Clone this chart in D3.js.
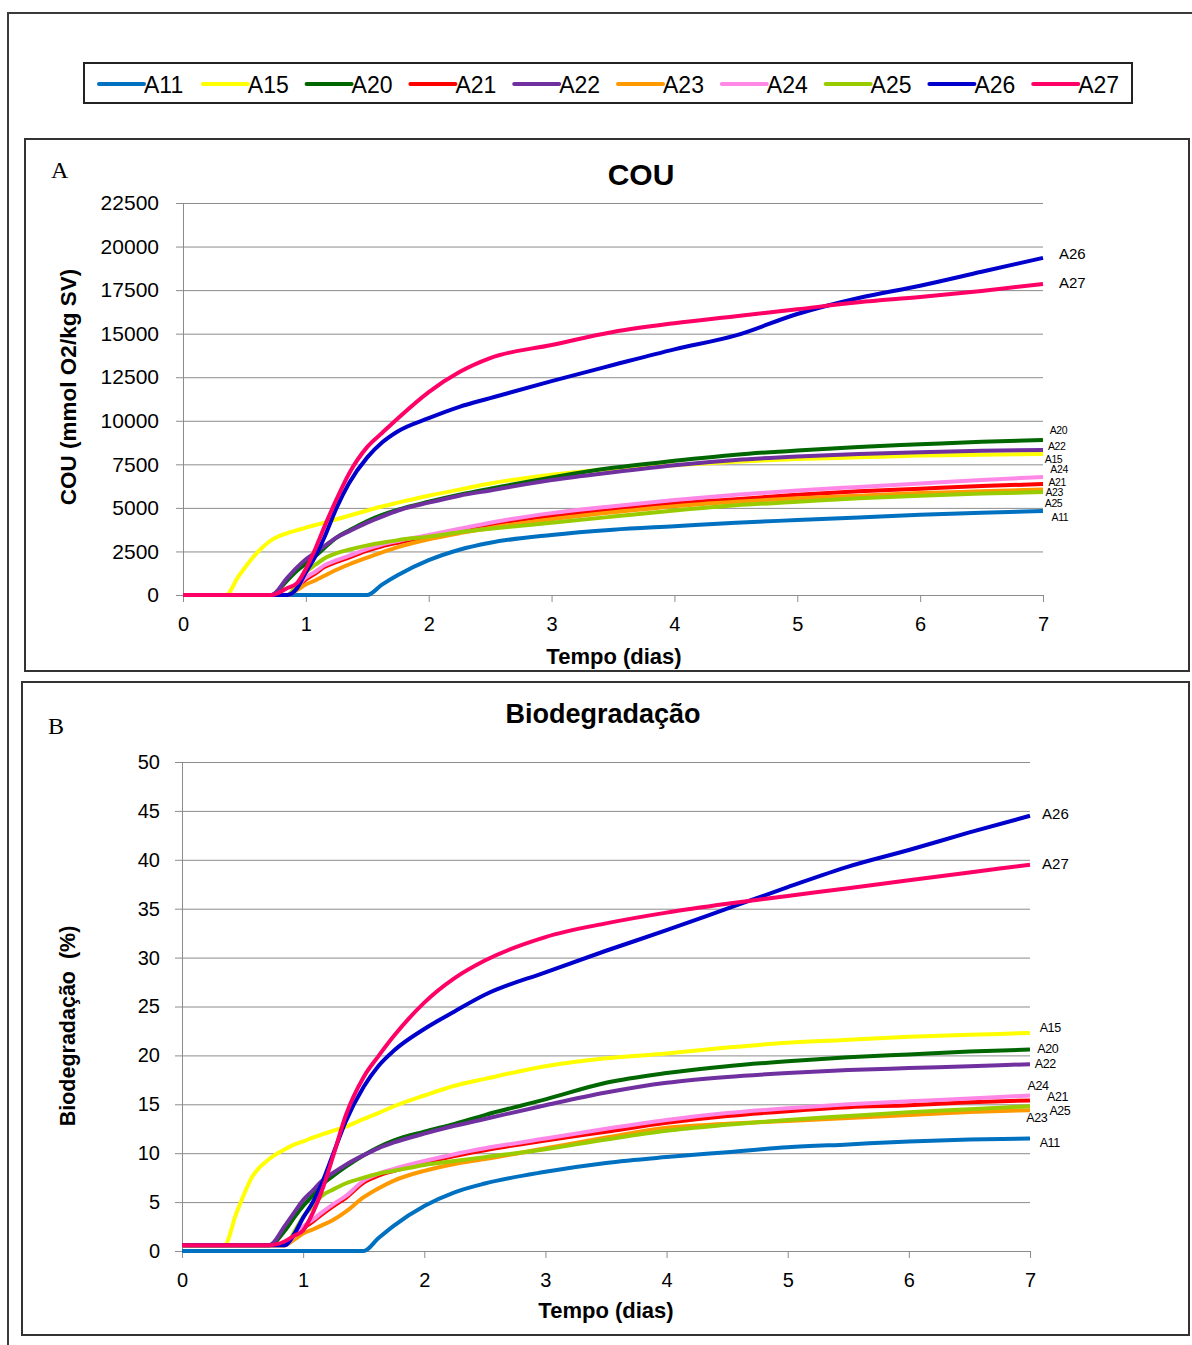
<!DOCTYPE html>
<html><head><meta charset="utf-8">
<script src="https://cdnjs.cloudflare.com/ajax/libs/d3/7.8.5/d3.min.js"></script>
<style>
body{margin:0;background:#fff;}
text{font-family:"Liberation Sans",Arial,sans-serif;fill:#000;}
</style></head>
<body><svg id="c" width="1192" height="1345"></svg>
<script>
// ---------- DATA ----------
const seriesNames = ["A11","A15","A20","A21","A22","A23","A24","A25","A26","A27"];
const seriesColors = ["#0070c0","#ffff00","#006600","#ff0000","#7030a0","#ff9900","#ff88e6","#99cc00","#0000cc","#ff0066"];
const days = [0,0.35,0.45,0.58,0.72,0.85,0.93,1.0,1.08,1.15,1.25,1.35,1.5,1.62,1.75,2,2.25,2.5,3,3.5,4,4.5,5,5.5,6,6.5,7];

// Panel A: COU (mmol O2/kg SV)
const couA11 = [0,0,0,0,0,0,0,0,0,0,0,0,0,600,1150,2000,2600,3000,3450,3750,3950,4150,4300,4450,4600,4720,4820];
const couA15 = [0,0,1050,2250,3150,3550,3720,3870,4020,4150,4350,4550,4850,5080,5300,5700,6050,6400,6900,7250,7450,7650,7800,7900,8000,8050,8090];
const couA20 = [0,0,0,0,0,850,1400,1800,2250,2700,3300,3700,4250,4600,4900,5350,5750,6100,6750,7300,7700,8050,8300,8500,8650,8800,8900];
const couA21 = [0,0,0,0,0,0,450,900,1250,1600,1900,2150,2550,2800,3000,3350,3700,4050,4550,4900,5250,5500,5750,5950,6100,6250,6370];
const couA22 = [0,0,0,0,0,1000,1600,2050,2450,2800,3300,3650,4150,4500,4850,5300,5700,6000,6600,7050,7450,7750,7950,8100,8200,8280,8320];
const couA23 = [0,0,0,0,0,0,300,600,850,1100,1450,1750,2150,2450,2750,3200,3550,3850,4350,4750,5100,5350,5550,5700,5850,5950,6050];
const couA24 = [0,0,0,0,0,0,500,1000,1350,1700,2000,2250,2650,2900,3100,3450,3800,4150,4700,5100,5450,5750,6000,6200,6400,6600,6770];
const couA25 = [0,0,0,0,0,0,650,1300,1750,2100,2400,2600,2850,3000,3150,3350,3600,3800,4150,4500,4850,5150,5350,5550,5700,5820,5910];
const couA26 = [0,0,0,0,0,0,400,1300,2250,3300,5000,6400,7900,8750,9400,10150,10800,11300,12280,13200,14100,14900,16130,17050,17750,18550,19350];
const couA27 = [0,0,0,0,0,400,700,1500,2700,3900,5500,6950,8500,9300,10150,11650,12800,13600,14350,15100,15600,16000,16400,16800,17100,17450,17850];

// Panel B: Biodegradação (%)
const bioA11 = [0,0,0,0,0,0,0,0,0,0,0,0,0,1.3,2.6,4.6,6.0,6.9,8.1,9.0,9.6,10.1,10.6,10.9,11.2,11.4,11.5];
const bioA15 = [0.6,0.6,3.9,7.6,9.4,10.4,10.9,11.2,11.6,11.9,12.3,12.7,13.5,14.1,14.8,15.9,16.9,17.6,18.9,19.7,20.2,20.8,21.3,21.6,21.9,22.1,22.3];
const bioA20 = [0.6,0.6,0.6,0.6,0.6,2.1,3.5,4.6,5.7,6.7,7.7,8.6,9.8,10.6,11.3,12.2,13.0,13.9,15.5,17.2,18.2,18.9,19.4,19.8,20.1,20.4,20.6];
const bioA21 = [0.6,0.6,0.6,0.6,0.6,0.6,1.5,2.3,3.0,3.7,4.6,5.4,7.0,7.7,8.2,9.0,9.7,10.3,11.3,12.2,13.1,13.8,14.3,14.7,14.9,15.2,15.4];
const bioA22 = [0.6,0.6,0.6,0.6,0.6,2.6,4.0,5.2,6.2,7.1,8.0,8.8,9.8,10.5,11.1,12.0,12.8,13.5,14.9,16.2,17.2,17.8,18.2,18.5,18.7,18.9,19.1];
const bioA23 = [0.6,0.6,0.6,0.6,0.6,0.6,1.2,1.8,2.2,2.6,3.2,4.0,5.5,6.4,7.2,8.2,8.9,9.4,10.5,11.6,12.6,13.0,13.3,13.6,13.9,14.2,14.4];
const bioA24 = [0.6,0.6,0.6,0.6,0.6,0.6,1.6,2.5,3.2,3.9,4.8,5.6,7.2,7.9,8.4,9.2,9.9,10.5,11.5,12.5,13.4,14.1,14.6,15.0,15.3,15.6,15.9];
const bioA25 = [0.6,0.6,0.6,0.6,0.6,0.6,2.0,3.5,4.6,5.6,6.3,6.9,7.5,7.9,8.2,8.8,9.2,9.6,10.4,11.4,12.3,12.9,13.4,13.8,14.2,14.5,14.8];
const bioA26 = [0.6,0.6,0.6,0.6,0.6,0.6,1.8,3.4,5.0,6.8,10.0,13.2,16.8,18.9,20.5,22.7,24.5,26.2,28.5,30.7,32.8,35.0,37.2,39.3,41.0,42.8,44.5];
const bioA27 = [0.6,0.6,0.6,0.6,0.6,1.0,1.6,2.1,3.9,6.0,9.8,13.8,17.8,19.9,22.0,25.4,27.9,29.7,32.1,33.5,34.6,35.5,36.3,37.1,37.9,38.7,39.5];

const couSeries = [couA11,couA15,couA20,couA21,couA22,couA23,couA24,couA25,couA26,couA27];
const bioSeries = [bioA11,bioA15,bioA20,bioA21,bioA22,bioA23,bioA24,bioA25,bioA26,bioA27];

const xTicks = [0,1,2,3,4,5,6,7];
const couTicks = [0,2500,5000,7500,10000,12500,15000,17500,20000,22500];
const bioTicks = [0,5,10,15,20,25,30,35,40,45,50];

// end-of-line annotations (day, value) in data units
const couLabelNames = ["A26","A27","A20","A22","A15","A24","A21","A23","A25","A11"];
const couLabelDays  = [7.13,7.13,7.055,7.04,7.015,7.06,7.045,7.02,7.015,7.07];
const couLabelVals  = [19570,17910,9470,8550,7810,7230,6490,5900,5250,4480];
const bioLabelNames = ["A26","A27","A15","A20","A22","A24","A21","A25","A23","A11"];
const bioLabelDays  = [7.10,7.10,7.08,7.06,7.04,6.98,7.14,7.16,6.97,7.08];
const bioLabelVals  = [44.7,39.6,22.9,20.7,19.2,16.9,15.8,14.4,13.6,11.1];

// ---------- DRAW ----------
const svg = d3.select("#c");

// outer frame
svg.append("rect").attr("x",8).attr("y",13).attr("width",1200).attr("height",1400)
  .attr("fill","none").attr("stroke","#3a3a3a").attr("stroke-width",2);

// legend
const leg = svg.append("g");
leg.append("rect").attr("x",84).attr("y",63).attr("width",1048).attr("height",40)
  .attr("fill","#fff").attr("stroke","#222").attr("stroke-width",2);
seriesNames.forEach((n,i)=>{
  const x0 = 99 + i*103.8;
  leg.append("line").attr("x1",x0).attr("x2",x0+45).attr("y1",84).attr("y2",84)
    .attr("stroke",seriesColors[i]).attr("stroke-width",4).attr("stroke-linecap","round");
  leg.append("text").attr("x",x0+45).attr("y",92.5).attr("font-size",23).text(n);
});

function panel(cfg){
  const g = svg.append("g");
  g.append("rect").attr("x",cfg.box[0]).attr("y",cfg.box[1]).attr("width",cfg.box[2]-cfg.box[0])
    .attr("height",cfg.box[3]-cfg.box[1]).attr("fill","#fff").attr("stroke","#333").attr("stroke-width",2);
  const x = d3.scaleLinear().domain([0,7]).range(cfg.xr);
  const y = d3.scaleLinear().domain(cfg.yd).range(cfg.yr);
  const w = cfg.xr[1]-cfg.xr[0];
  // gridlines
  g.append("g").attr("transform",`translate(${cfg.xr[0]},0)`)
    .call(d3.axisLeft(y).tickValues(cfg.yTicks).tickSize(-w).tickFormat(""))
    .call(s=>{s.select(".domain").remove(); s.selectAll("line").attr("stroke","#8c8c8c");});
  // y axis
  g.append("g").attr("transform",`translate(${cfg.xr[0]},0)`)
    .call(d3.axisLeft(y).tickValues(cfg.yTicks).tickSize(7).tickSizeOuter(0).tickPadding(cfg.yPad).tickFormat(d3.format("d")))
    .call(s=>{s.select(".domain").attr("stroke","#8c8c8c");
      s.selectAll("line").attr("stroke","#8c8c8c");
      s.selectAll("text").attr("font-size",cfg.yFont).attr("font-family","Liberation Sans, Arial").attr("fill","#000");});
  // x axis
  g.append("g").attr("transform",`translate(0,${cfg.yr[0]})`)
    .call(d3.axisBottom(x).tickValues(xTicks).tickSize(7).tickSizeOuter(0).tickPadding(15).tickFormat(d3.format("d")))
    .call(s=>{s.select(".domain").attr("stroke","#8c8c8c");
      s.selectAll("line").attr("stroke","#8c8c8c");
      s.selectAll("text").attr("font-size",20).attr("font-family","Liberation Sans, Arial").attr("fill","#000");});
  // lines
  const line = d3.line().x((d,i)=>x(days[i])).y(d=>y(d)).curve(d3.curveMonotoneX);
  cfg.series.forEach((s,i)=>{
    g.append("path").datum(s).attr("d",line).attr("fill","none")
      .attr("stroke",seriesColors[i]).attr("stroke-width",4).attr("stroke-linejoin","round");
  });
  // end labels
  cfg.lblNames.forEach((n,i)=>{
    const big = (n==="A26"||n==="A27");
    g.append("text").attr("x",x(cfg.lblDays[i])).attr("y",y(cfg.lblVals[i]))
      .attr("dy","0.36em").attr("font-size",big?15:cfg.smallFont)
      .attr("letter-spacing", big?0:-0.4).text(n);
  });
  // titles
  g.append("text").attr("x",cfg.title[1]).attr("y",cfg.title[2]).attr("text-anchor","middle")
    .attr("font-weight","bold").attr("font-size",cfg.title[3]).text(cfg.title[0]);
  g.append("text").attr("x",cfg.xt[0]).attr("y",cfg.xt[1]).attr("text-anchor","middle")
    .attr("font-weight","bold").attr("font-size",22).text("Tempo (dias)");
  g.append("text").attr("transform",`translate(${cfg.yt[1]},${cfg.yt[2]}) rotate(-90)`)
    .attr("text-anchor","middle").attr("dy","0.35em").attr("font-weight","bold").attr("font-size",cfg.yt[3]).text(cfg.yt[0]);
  g.append("text").attr("x",cfg.letter[1]).attr("y",cfg.letter[2])
    .style("font-family","'Liberation Serif', 'Times New Roman', serif").attr("font-size",24).text(cfg.letter[0]);
}

panel({box:[25,139,1189,671], xr:[183,1043], yd:[0,22500], yr:[595,203], yTicks:couTicks, yPad:17, yFont:21,
  series:couSeries, lblNames:couLabelNames, lblDays:couLabelDays, lblVals:couLabelVals, smallFont:10.5,
  title:["COU",641,185,30], xt:[614,664], yt:["COU (mmol O2/kg SV)",68,387,22.5], letter:["A",51,178]});

panel({box:[22,682,1189,1335], xr:[182,1030], yd:[0,50], yr:[1251,762], yTicks:bioTicks, yPad:15, yFont:20,
  series:bioSeries, lblNames:bioLabelNames, lblDays:bioLabelDays, lblVals:bioLabelVals, smallFont:12.5,
  title:["Biodegradação",603,723,27], xt:[606,1318], yt:["Biodegradação\u00a0\u00a0(%)",67,1026,21.5], letter:["B",48,734]});
</script></body></html>
